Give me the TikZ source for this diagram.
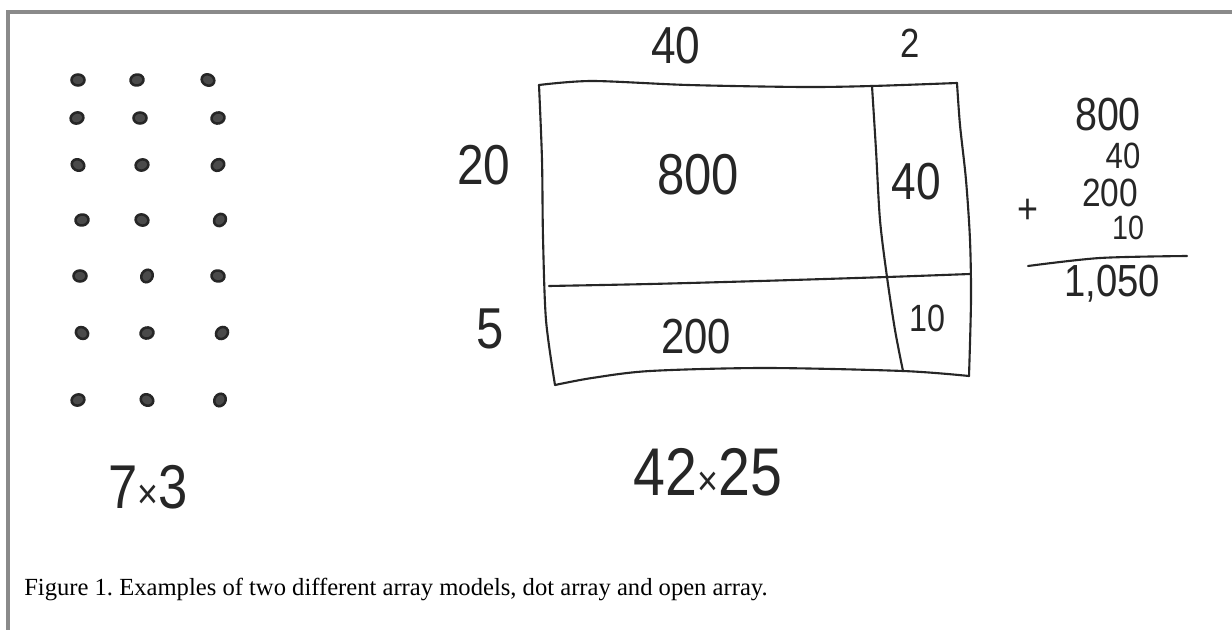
\documentclass[tikz,border=0pt]{standalone}
\usepackage{fontspec}
\setmainfont{Liberation Serif}
\newfontfamily\handfont[FakeStretch=0.85]{Liberation Sans}
\definecolor{framegray}{HTML}{8A8A8A}
\definecolor{pencil}{HTML}{262626}
\definecolor{dotfill}{HTML}{4A4A4A}
\newcommand{\arraydot}[3]{%
	\filldraw[fill=dotfill, draw=pencil, line width=1.8pt, rotate around={#3:(#1,#2)}] (#1,#2) ellipse[x radius=6.5, y radius=5.5];
}
\newcommand{\handtimes}{{\fontsize{30pt}{30pt}\selectfont ×}}
\tikzset{
	handtext/.style={font=\handfont\fontsize{#1}{#1}\selectfont, text=pencil, inner sep=0pt},
	handline/.style={draw=pencil, line width=1.5pt, line cap=round, line join=round}
}

\begin{document}
\frenchspacing
\begin{tikzpicture}[x=0.025cm,y=-0.025cm]
	% Fixed white canvas, pixel units with y running downwards.
	\path[use as bounding box] (0,0) rectangle (1232,630);
	\fill[white] (0,0) rectangle (1232,630);

	% Grey frame, open to the right and at the bottom.
	\draw[framegray, line width=2.2pt] (8,630) -- (8,12) -- (1232,12);

	% Dot array: seven rows of three.
	\foreach \x/\y/\a in {78/80/0, 137/80/10, 208/80/-25,
		77/118/20, 140/118/0, 218/118/15,
		78/165/-30, 142/165/20, 218/165/35,
		82/220/10, 142/220/-20, 220/220/50,
		80/276/0, 147/276/60, 218/276/-10,
		82/333/-40, 147/333/15, 222/333/45,
		78/400/20, 147/400/-30, 220/400/60} {
		\arraydot{\x}{\y}{\a}
	}
	\node[handtext=44pt] (dotlabel) at (148,487) {7\handtimes3};

	% Open array: outer box, split into four parts.
	\draw[handline] plot[smooth, tension=0.5] coordinates {(539,85) (592,81) (688,85) (803,87) (872,86) (957,83)};
	\draw[handline] plot[smooth, tension=0.5] coordinates {(957,83) (960,125) (966,180) (970,240) (971,300) (969,376)};
	\draw[handline] plot[smooth, tension=0.5] coordinates {(555,385) (592,378) (650,371) (765,368) (903,371) (969,376)};
	\draw[handline] plot[smooth, tension=0.5] coordinates {(539,85) (542,160) (543,237) (546,320) (555,385)};
	\draw[handline] plot[smooth, tension=0.5] coordinates {(872,86) (876,150) (880,220) (887,277) (895,330) (903,371)};
	\draw[handline] plot[smooth, tension=0.5] coordinates {(549,286) (650,284) (760,281) (887,277) (970,274)};

	% Side lengths.
	\node[handtext=37pt] (toptens) at (676,46) {40};
	\node[handtext=29pt] (topones) at (910,43) {2};
	\node[handtext=40pt] (lefttens) at (484,165) {20};
	\node[handtext=41pt] (leftones) at (490,329) {5};

	% Partial products in the cells.
	\node[handtext=41pt] (cellA) at (698,175) {800};
	\node[handtext=37pt] (cellB) at (916,182) {40};
	\node[handtext=35pt] (cellC) at (696,337) {200};
	\node[handtext=27pt] (cellD) at (927,318) {10};
	\node[handtext=48pt] (openlabel) at (708,472) {42\handtimes25};

	% Column sum of the partial products.
	\node[handtext=33pt] (sumA) at (1108,115) {800};
	\node[handtext=26pt] (sumB) at (1123,156) {40};
	\node[handtext=28pt] (sumC) at (1110,193) {200};
	\node[handtext=30pt] (plus) at (1028,211) {+};
	\node[handtext=24pt] (sumD) at (1128,228) {10};
	\draw[handline] plot[smooth, tension=0.5] coordinates {(1028,266) (1100,258) (1187,256)};
	\node[handtext=32pt, anchor=base] (total) at (1112,297) {1,050};

	% Caption.
	\node[anchor=west, font=\fontsize{17.5pt}{20pt}\selectfont, inner sep=0pt] (caption) at (24,589)
		{Figure 1. Examples of two different array models, dot array and open array.};
\end{tikzpicture}
\end{document}
